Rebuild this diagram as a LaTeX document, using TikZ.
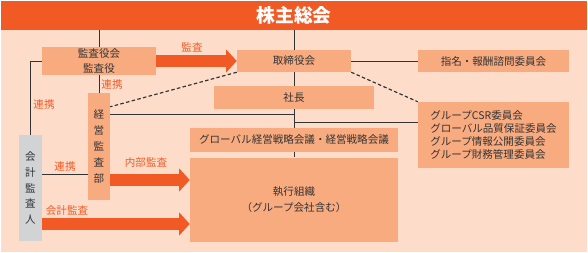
\documentclass[tikz,border=0pt]{standalone}
\usepackage{fontspec}
\setmainfont{Noto Sans CJK JP}
\usepackage{xcolor}
\usepackage{tikz}
\usetikzlibrary{arrows.meta,positioning,calc,backgrounds}
\definecolor{topbar}{HTML}{F15A24}
\definecolor{boxfill}{HTML}{F9AB80}
\definecolor{paper}{HTML}{FDDDCA}
\definecolor{auditgray}{HTML}{D1D3D4}
\definecolor{inktext}{HTML}{333333}
\tikzset{
  org/.style={fill=boxfill, inner sep=0pt, align=center, text=inktext, font=\fontsize{9}{13}\selectfont},
  orgv/.style={org, font=\fontsize{9}{13.6}\selectfont},
  lnk/.style={draw=inktext, line width=.8pt},
  dsh/.style={lnk, line width=1pt, dash pattern=on 3pt off 2pt},
  fat/.style={draw=topbar, line width=.36cm, -{Triangle[length=.32cm, width=.68cm]}},
  tag/.style={font=\fontsize{9}{11}\selectfont, text=topbar, inner sep=0pt},
}
\begin{document}
\begin{tikzpicture}[x=0.03cm, y=-0.03cm]
    \useasboundingbox (0,0) rectangle (588,253);
    % boxes
    \node[fill=topbar, inner sep=0pt, minimum width=17.58cm, minimum height=.87cm, text=white, font=\fontsize{16}{18}\selectfont\bfseries] (soukai) at (294,15.5) {株主総会};
    \node[org, minimum width=3.42cm, minimum height=.84cm] (kansayaku) at (99,61) {監査役会\\監査役};
    \node[org, minimum width=3.42cm, minimum height=.66cm] (torishimari) at (294,61) {取締役会};
    \node[org, minimum width=4.53cm, minimum height=.66cm] (shimei) at (493.5,61) {指名・報酬諮問委員会};
    \node[org, minimum width=4.80cm, minimum height=.69cm] (shacho) at (294,97.5) {社長};
    \node[org, align=left, minimum width=4.53cm, minimum height=1.98cm, font=\fontsize{9}{11.2}\selectfont] (iinkai) at (493.5,135) {グループCSR委員会\\グローバル品質保証委員会\\グループ情報公開委員会\\グループ財務管理委員会};
    \node[org, minimum width=6.24cm, minimum height=.72cm] (senryaku) at (294,140) {グローバル経営戦略会議・経営戦略会議};
    \node[org, minimum width=6.24cm, minimum height=2.52cm] (shikkou) at (294,199.5) {執行組織\\（グループ会社含む）};
    \node[orgv, minimum width=.66cm, minimum height=3.21cm] (keiei) at (99,146.5) {経\\営\\監\\査\\部};
    \node[orgv, fill=auditgray, minimum width=.69cm, minimum height=3.18cm] (kaikei) at (30.5,188) {会\\計\\監\\査\\人};
    % connectors
    \begin{scope}[on background layer]
      \fill[paper] (1,1) rectangle (586.5,251.5);
      \draw[lnk] (soukai.south -| shikkou.north) -- (shikkou.north);
      \draw[lnk] (soukai.south -| kansayaku.north) -- (kansayaku.north);
      \draw[lnk] (kansayaku.south) -- (keiei.north);
      \draw[lnk] (kansayaku.west) -| (kaikei.north);
      \draw[lnk] ([yshift=.42cm]kaikei.east) -- ([yshift=.42cm]kaikei.east -| keiei.west);
      \draw[lnk] (torishimari.east) -- (shimei.west);
      \draw[lnk] ([yshift=.975cm]keiei.east) -- ([yshift=.975cm]keiei.east -| shikkou.north);
      \draw[lnk] ([yshift=.39cm]iinkai.west) -- ([yshift=.39cm]iinkai.west -| shikkou.north);
      \draw[dsh] (torishimari.south west) -- ([yshift=-.42cm]keiei.north east);
      \draw[dsh] (torishimari.south east) -- (iinkai.north west);
    \end{scope}
    \draw[fat] (kansayaku.east) -- (torishimari.west);
    \draw[fat] ([yshift=-1.005cm]keiei.east) -- ([yshift=-1.005cm]keiei.east -| shikkou.west);
    \draw[fat] ([yshift=-1.08cm]kaikei.east) -- ([yshift=-1.08cm]kaikei.east -| shikkou.west);
    % labels
    \node[tag] (lbkansa) at (192,47) {監査};
    \node[tag] (lbrenkei1) at (112,85) {連携};
    \node[tag] (lbrenkei2) at (44,105) {連携};
    \node[tag] (lbrenkei3) at (65,167) {連携};
    \node[tag] (lbnaibu) at (146,163) {内部監査};
    \node[tag] (lbkaikei) at (67,211) {会計監査};
  \end{tikzpicture}
\end{document}
